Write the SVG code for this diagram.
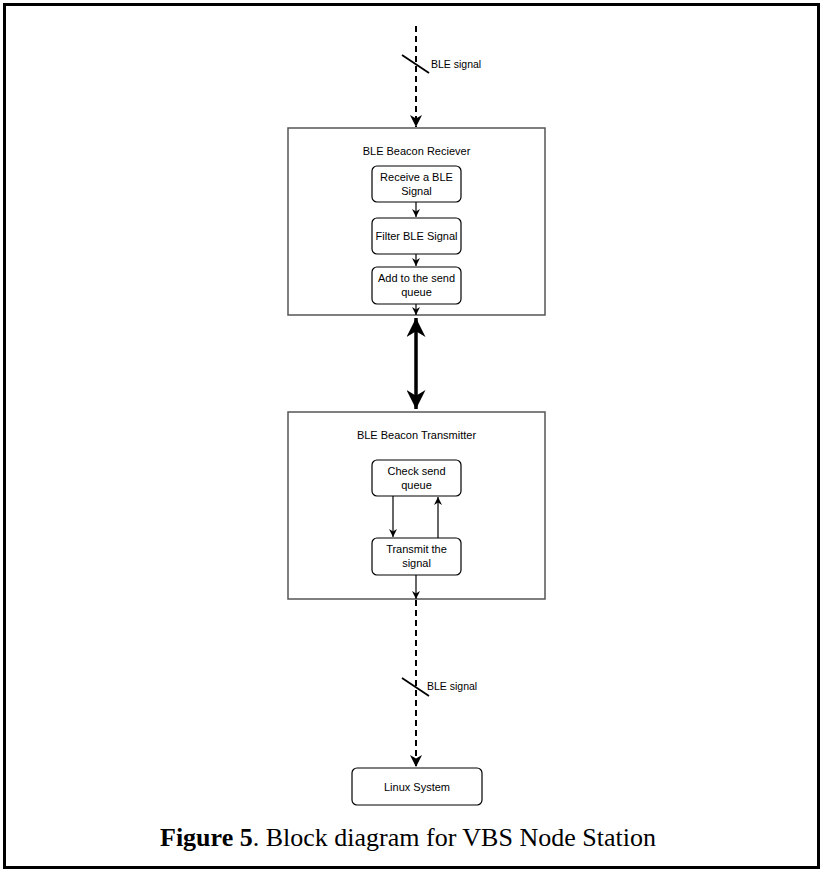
<svg xmlns="http://www.w3.org/2000/svg" width="826" height="875" viewBox="0 0 826 875">
<defs>
<style>
.frame{fill:#fff;stroke:#000;stroke-width:3}
.cont{fill:#fff;stroke:#555;stroke-width:1.5}
.box{fill:#fff;stroke:#000;stroke-width:1.2}
.t{font-family:"Liberation Sans",Arial,sans-serif;font-size:11px;fill:#000;text-anchor:middle}
.tl{font-family:"Liberation Sans",Arial,sans-serif;font-size:10.5px;fill:#000}
.ln{fill:none;stroke:#000;stroke-width:1.2}
.sl{fill:none;stroke:#000;stroke-width:1.8}
.dash{fill:none;stroke:#000;stroke-width:2;stroke-dasharray:6 4}
.thick{fill:none;stroke:#000;stroke-width:3.5}
.cap{font-family:"Liberation Serif","Times New Roman",serif;font-size:26px;fill:#000}
</style>
<marker id="a" viewBox="0 0 10 10" refX="10" refY="5" markerWidth="8" markerHeight="8" markerUnits="userSpaceOnUse" orient="auto">
<path d="M0,0 L10,5 L0,10 L3,5 Z" fill="#000"/>
</marker>
<marker id="ad" viewBox="0 0 10 10" refX="10" refY="5" markerWidth="6" markerHeight="6" orient="auto">
<path d="M0,0 L10,5 L0,10 L3,5 Z" fill="#000"/>
</marker>
<marker id="ab" viewBox="0 0 10 10" refX="10" refY="5" markerWidth="19" markerHeight="19" markerUnits="userSpaceOnUse" orient="auto-start-reverse">
<path d="M0,0 L10,5 L0,10 L3,5 Z" fill="#000"/>
</marker>
</defs>
<rect class="frame" x="4.5" y="4.5" width="814" height="863"/>

<g id="receiver">
<rect class="cont" x="288" y="128" width="257" height="187"/>
<text class="t" x="416.5" y="155">BLE Beacon Reciever</text>
</g>
<g id="receive">
<rect class="box" x="372" y="166" width="89" height="36" rx="5"/>
<text class="t" x="416.5" y="181">Receive a BLE</text>
<text class="t" x="416.5" y="195">Signal</text>
</g>
<g id="filter">
<rect class="box" x="372" y="218" width="89" height="36" rx="5"/>
<text class="t" x="416.5" y="240">Filter BLE Signal</text>
</g>
<g id="addqueue">
<rect class="box" x="372" y="267" width="89" height="37" rx="5"/>
<text class="t" x="416.5" y="282">Add to the send</text>
<text class="t" x="416.5" y="296">queue</text>
</g>

<g id="transmitter">
<rect class="cont" x="288" y="412" width="257" height="187"/>
<text class="t" x="416.5" y="439">BLE Beacon Transmitter</text>
</g>
<g id="check">
<rect class="box" x="372" y="460" width="89" height="36" rx="5"/>
<text class="t" x="416.5" y="475">Check send</text>
<text class="t" x="416.5" y="489">queue</text>
</g>
<g id="transmit">
<rect class="box" x="372" y="538" width="89" height="37" rx="5"/>
<text class="t" x="416.5" y="553">Transmit the</text>
<text class="t" x="416.5" y="567">signal</text>
</g>
<g id="linux">
<rect class="box" x="352" y="768" width="130" height="37" rx="5"/>
<text class="t" x="417" y="791">Linux System</text>
</g>

<g id="connectors">
<line class="dash" x1="416" y1="26" x2="416" y2="127" marker-end="url(#ad)"/>
<line class="sl" x1="402" y1="55" x2="429" y2="73"/>
<text class="tl" x="431" y="68">BLE signal</text>
<line class="ln" x1="416" y1="202" x2="416" y2="217" marker-end="url(#a)"/>
<line class="ln" x1="416" y1="254" x2="416" y2="266" marker-end="url(#a)"/>
<line class="ln" x1="416" y1="304" x2="416" y2="315" marker-end="url(#a)"/>
<line class="thick" x1="416" y1="318" x2="416" y2="409" marker-start="url(#ab)" marker-end="url(#ab)"/>
<line class="ln" x1="393" y1="496" x2="393" y2="537" marker-end="url(#a)"/>
<line class="ln" x1="438" y1="538" x2="438" y2="497" marker-end="url(#a)"/>
<line class="ln" x1="416" y1="575" x2="416" y2="599" marker-end="url(#a)"/>
<line class="dash" x1="416" y1="600" x2="416" y2="767" marker-end="url(#ad)"/>
<line class="sl" x1="402" y1="678" x2="429" y2="696"/>
<text class="tl" x="427" y="690">BLE signal</text>
</g>

<text class="cap" x="160" y="846"><tspan font-weight="bold">Figure 5</tspan>. Block diagram for VBS Node Station</text>
</svg>
